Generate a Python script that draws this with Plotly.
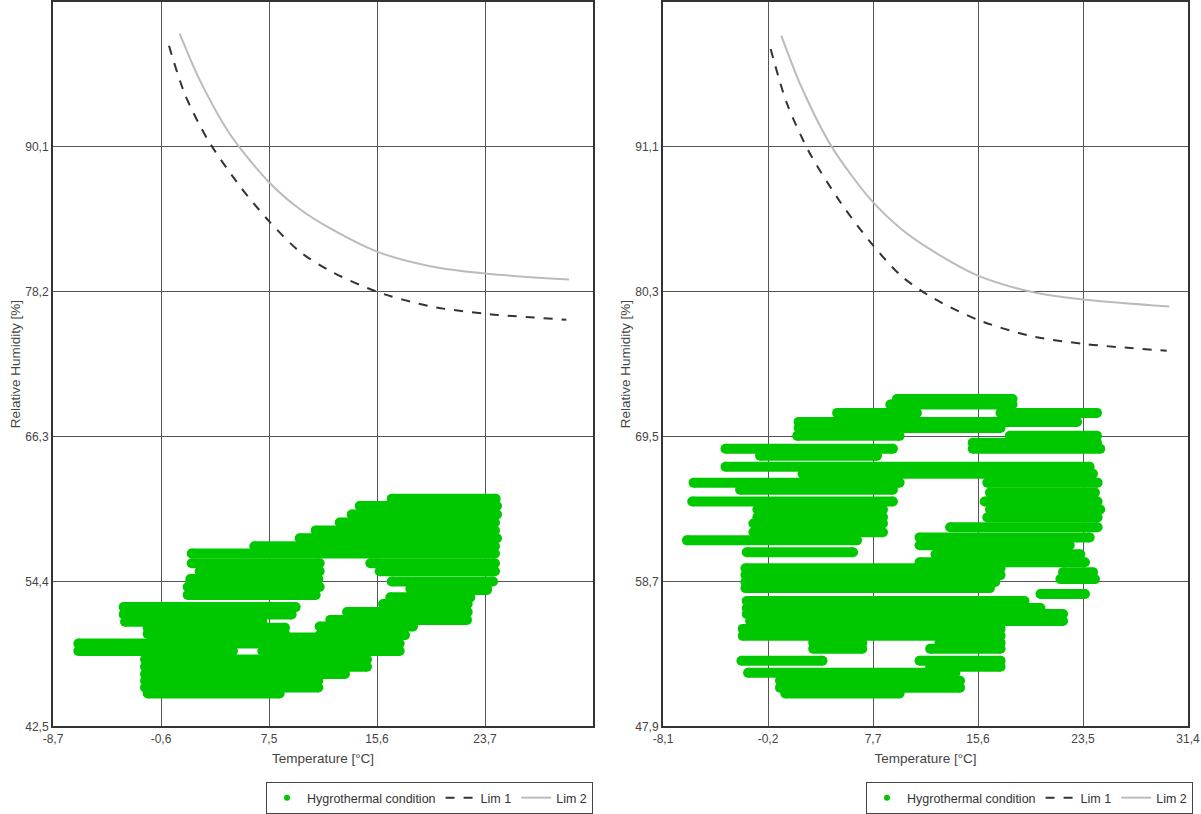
import plotly.graph_objects as go

# ---------------- data ----------------
# Limit curves (temperature [°C], relative humidity [%])
lim1_t = [0.0, 1.2, 2.9, 5.3, 7.5, 9.8, 12.1, 15.6, 19.6, 23.7, 29.8]
lim1_rh = [98.4, 94.4, 90.7, 86.9, 84.0, 81.5, 79.9, 78.2, 77.0, 76.4, 75.9]
lim2_t = [0.8, 2.3, 4.6, 7.5, 9.8, 12.1, 15.6, 19.6, 23.7, 30.0]
lim2_rh = [99.4, 95.6, 91.1, 87.2, 85.0, 83.4, 81.5, 80.3, 79.7, 79.2]

# Left chart: hygrothermal condition traced as daily strokes (RH level, T min, T max)
left_rh = [61.2, 60.6, 59.9, 59.25, 58.6, 57.95, 57.3, 56.7, 55.9, 55.9, 55.25, 55.25,
           54.6, 54.4, 53.95, 53.8, 53.3, 52.3, 51.7, 51.1, 50.6, 50.1, 49.8, 49.3,
           48.7, 48.7, 48.0, 47.4, 46.8, 46.25, 45.7, 45.2, 50.0, 50.7, 51.25, 51.9,
           52.55, 53.1, 53.7]
left_tmin = [16.7, 14.3, 13.7, 12.8, 11.0, 9.8, 6.4, 1.7, 1.7, 15.1, 2.3, 15.8,
             1.6, 16.7, 1.4, 18.1, 1.4, -3.4, -3.4, -3.3, -1.6, -1.6, 2.3, -6.8,
             -6.8, 7.0, -1.8, -1.8, -1.8, -1.8, -1.8, -1.6, 11.3, 11.3, 12.1, 13.35,
             16.05, 16.6, 18.3]
left_tmax = [24.5, 24.6, 24.6, 24.45, 24.45, 24.6, 24.45, 24.45, 11.3, 24.45, 11.3, 24.45,
             11.2, 24.3, 11.3, 23.85, 11.0, 9.5, 9.2, 7.0, 8.7, 8.7, 11.3, 17.3,
             4.8, 17.3, 14.85, 14.85, 13.2, 11.2, 11.2, 8.3, 17.7, 18.3, 22.35, 22.4,
             22.4, 22.6, 23.85]

# Right chart
right_rh = [72.3, 71.9, 71.27, 71.27, 70.6, 70.15, 69.56, 69.56, 69.04, 68.6, 68.6, 68.08,
            67.26, 66.74, 66.07, 66.07, 65.55, 65.33, 64.66, 64.66, 64.07, 64.07, 63.5, 63.48,
            63.03, 62.74, 62.37, 61.99, 61.77, 61.4, 60.88, 60.73, 60.14, 59.69, 59.4, 59.18,
            58.88, 58.66, 58.21, 57.77, 57.25, 56.73, 56.28, 55.76, 55.17, 54.65, 54.13, 54.13,
            53.69, 53.69, 52.8, 52.8, 52.35, 51.9, 51.31, 50.79, 50.35]
right_tmin = [9.5, 9.0, 5.0, 17.3, 2.1, 2.1, 2.0, 18.0, 15.2, -3.4, 15.2, -0.8,
              -3.4, 2.4, -5.8, 16.3, -2.3, 16.5, -5.9, 16.1, -1.0, 16.5, -1.0, 16.3,
              -1.3, 13.5, -1.3, 11.2, -6.3, 11.2, -1.8, 12.4, 11.2, -1.9, 22.0, -1.9,
              21.8, -1.9, -1.9, 20.3, -1.8, -1.8, -1.8, -1.55, -2.1, -2.1, 3.2, 12.7,
              3.2, 12.0, -2.2, 11.2, 12.0, -1.7, 0.7, 0.7, 1.1]
right_tmax = [18.2, 18.2, 11.0, 24.55, 23.05, 17.3, 9.7, 24.55, 24.55, 9.2, 24.8, 8.0,
              24.0, 24.25, 9.7, 24.6, 9.2, 24.4, 9.2, 24.6, 8.45, 24.8, 8.45, 24.6,
              8.45, 24.6, 8.45, 24.0, 6.5, 22.5, 6.2, 23.3, 23.65, 17.3, 24.25, 17.3,
              24.4, 16.9, 16.5, 23.65, 19.1, 20.3, 22.0, 22.0, 17.3, 17.3, 6.9, 17.3,
              6.9, 17.3, 3.9, 17.3, 17.3, 13.9, 14.25, 14.25, 9.7]

# Axis ticks
left_xticks = [-8.7, -0.6, 7.5, 15.6, 23.7]
left_xlabels = ["-8,7", "-0,6", "7,5", "15,6", "23,7"]
left_xgrid_end = 31.8
left_yticks = [42.5, 54.4, 66.3, 78.2, 90.1]
left_ylabels = ["42,5", "54,4", "66,3", "78,2", "90,1"]
left_ytop = 102.0

right_xticks = [-8.1, -0.2, 7.7, 15.6, 23.5, 31.4]
right_xlabels = ["-8,1", "-0,2", "7,7", "15,6", "23,5", "31,4"]
right_yticks = [47.9, 58.7, 69.5, 80.3, 91.1]
right_ylabels = ["47,9", "58,7", "69,5", "80,3", "91,1"]
right_ytop = 101.9

GREEN = "#00c800"
FONT = "Liberation Sans, Arial, sans-serif"


def stroke_path(rh, tmin, tmax):
    xs, ys = [], []
    for r, a, b in zip(rh, tmin, tmax):
        xs += [a, b, None]
        ys += [r, r, None]
    return xs, ys


fig = go.Figure()

panels = [
    ("x", "y", "legend", left_rh, left_tmin, left_tmax),
    ("x2", "y2", "legend2", right_rh, right_tmin, right_tmax),
]
for xa, ya, lg, rh, tmin, tmax in panels:
    xs, ys = stroke_path(rh, tmin, tmax)
    fig.add_trace(go.Scatter(
        x=xs, y=ys, mode="lines+markers", xaxis=xa, yaxis=ya,
        line=dict(color=GREEN, width=10), marker=dict(color=GREEN, size=10),
        showlegend=False, hoverinfo="skip", connectgaps=False))
    fig.add_trace(go.Scatter(
        x=[None], y=[None], mode="markers", xaxis=xa, yaxis=ya,
        marker=dict(color=GREEN, size=6), name="Hygrothermal condition", legend=lg))
    fig.add_trace(go.Scatter(
        x=lim1_t, y=lim1_rh, mode="lines", xaxis=xa, yaxis=ya,
        line=dict(color="#333333", width=2, dash="dash", shape="spline", smoothing=0.8),
        name="Lim 1", legend=lg))
    fig.add_trace(go.Scatter(
        x=lim2_t, y=lim2_rh, mode="lines", xaxis=xa, yaxis=ya,
        line=dict(color="#bbbbbb", width=2, shape="spline", smoothing=0.8),
        name="Lim 2", legend=lg))

W, H = 1201, 814
ydom = [(814 - 730) / H, (814 - 2) / H]

axis_common = dict(
    showgrid=True, gridcolor="#555555", gridwidth=1,
    showline=True, mirror=True, linecolor="#333333", linewidth=2,
    zeroline=False, ticks="", tickfont=dict(size=12, color="#444444", family=FONT),
    automargin=False,
)
title_font = dict(size=13.5, color="#444444", family=FONT)

fig.update_layout(
    width=W, height=H,
    margin=dict(l=0, r=0, t=0, b=0),
    paper_bgcolor="white", plot_bgcolor="white",
    font=dict(family=FONT, color="#444444"),
    xaxis=dict(domain=[53 / W, 593 / W], range=[left_xticks[0], left_xgrid_end],
               tickvals=left_xticks + [left_xgrid_end], ticktext=left_xlabels + [""],
               title=dict(text="Temperature [°C]", font=title_font, standoff=9),
               anchor="y", **axis_common),
    yaxis=dict(domain=ydom, range=[left_yticks[0], left_ytop],
               tickvals=left_yticks, ticktext=left_ylabels,
               title=dict(text="Relative Humidity [%]", font=title_font, standoff=2),
               anchor="x", **axis_common),
    xaxis2=dict(domain=[663 / W, 1188 / W], range=[right_xticks[0], right_xticks[-1]],
                tickvals=right_xticks, ticktext=right_xlabels,
                title=dict(text="Temperature [°C]", font=title_font, standoff=9),
                anchor="y2", **axis_common),
    yaxis2=dict(domain=ydom, range=[right_yticks[0], right_ytop],
                tickvals=right_yticks, ticktext=right_ylabels,
                title=dict(text="Relative Humidity [%]", font=title_font, standoff=2),
                anchor="x2", **axis_common),
    legend=dict(orientation="h", x=593 / W, xanchor="right", y=(814 - 786) / H, yanchor="top",
                bordercolor="#444444", borderwidth=1, bgcolor="white",
                font=dict(size=12.5, color="#333333", family=FONT),
                itemwidth=30, tracegroupgap=0),
    legend2=dict(orientation="h", x=1193 / W, xanchor="right", y=(814 - 786) / H, yanchor="top",
                 bordercolor="#444444", borderwidth=1, bgcolor="white",
                 font=dict(size=12.5, color="#333333", family=FONT),
                 itemwidth=30, tracegroupgap=0),
)

fig.write_html("out.html", config={"displayModeBar": False},
               post_script="document.body.style.margin='0';document.body.style.padding='0';")
